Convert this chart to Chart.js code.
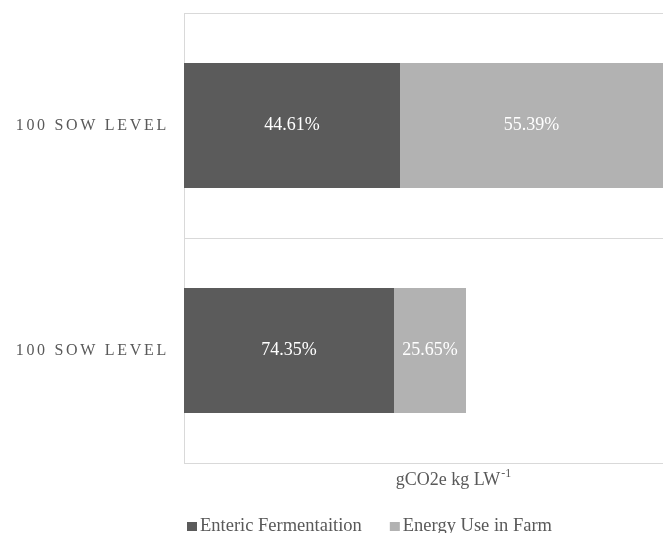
<!DOCTYPE html>
<html>
<head>
<meta charset="utf-8">
<script src="https://cdn.jsdelivr.net/npm/chart.js@4"></script>
<style>
  html, body { margin: 0; padding: 0; background: #ffffff; }
  #wrap { width: 663px; height: 533px; }
</style>
</head>
<body>
<div id="wrap"><canvas id="chart"></canvas></div>
<script>
const categories = ["100 SOW LEVEL", "100 SOW LEVEL"];
const entericValues = [2.16, 2.10];
const energyValues = [2.68, 0.72];
const entericLabels = ["44.61%", "74.35%"];
const energyLabels = ["55.39%", "25.65%"];
const axisTitle = "gCO2e kg LW";
const axisTitleSup = "-1";

const serif = "'Liberation Serif', 'Times New Roman', serif";
const textGray = "#595959";

// spaced category labels, bar percentages, axis title and legend
const extras = {
    id: "extras",
    beforeDraw(chart) {
        chart.ctx.letterSpacing = "2.7px";
    },
    beforeDatasetsDraw(chart) {
        chart.ctx.letterSpacing = "0px";
    },
    afterDatasetsDraw(chart) {
        const ctx = chart.ctx;
        const area = chart.chartArea;
        const texts = [entericLabels, energyLabels];
        ctx.save();
        ctx.font = "18px " + serif;
        ctx.fillStyle = "#ffffff";
        ctx.textAlign = "center";
        ctx.textBaseline = "middle";
        chart.data.datasets.forEach((ds, d) => {
            chart.getDatasetMeta(d).data.forEach((bar, i) => {
                const right = Math.min(bar.x, area.right);
                ctx.fillText(texts[d][i], (bar.base + right) / 2, bar.y);
            });
        });
        ctx.restore();
    },
    afterDraw(chart) {
        const ctx = chart.ctx;
        ctx.save();
        // axis title with superscript
        ctx.fillStyle = textGray;
        ctx.textBaseline = "alphabetic";
        ctx.font = "18px " + serif;
        const w1 = ctx.measureText(axisTitle).width;
        ctx.font = "12px " + serif;
        const w2 = ctx.measureText(axisTitleSup).width;
        const x0 = 453 - (w1 + w2) / 2;
        ctx.font = "18px " + serif;
        ctx.fillText(axisTitle, x0, 485);
        ctx.font = "12px " + serif;
        ctx.fillText(axisTitleSup, x0 + w1 + 1, 477);

        // legend
        ctx.font = "18.5px " + serif;
        let x = 187;
        chart.data.datasets.forEach(ds => {
            ctx.fillStyle = ds.backgroundColor;
            ctx.fillRect(x, 522, 10, 9);
            ctx.fillStyle = textGray;
            ctx.fillText(ds.label, x + 13, 531);
            x += 13 + ctx.measureText(ds.label).width + 28;
        });
        ctx.restore();
    }
};

new Chart(document.getElementById("chart"), {
    type: "bar",
    data: {
        labels: categories,
        datasets: [
            {
                label: "Enteric Fermentaition",
                data: entericValues,
                backgroundColor: "#5b5b5b",
                categoryPercentage: 1,
                barPercentage: 0.555
            },
            {
                label: "Energy Use in Farm",
                data: energyValues,
                backgroundColor: "#b2b2b2",
                categoryPercentage: 1,
                barPercentage: 0.555
            }
        ]
    },
    options: {
        indexAxis: "y",
        responsive: true,
        maintainAspectRatio: false,
        animation: false,
        layout: { padding: { top: 13, bottom: 70, left: 0, right: 0 } },
        plugins: {
            legend: { display: false },
            tooltip: { enabled: false }
        },
        scales: {
            x: {
                stacked: true,
                display: false,
                min: 0,
                max: 4.79
            },
            y: {
                stacked: true,
                afterFit(scale) {
                    scale.width = 184;
                    scale.paddingTop = 0;
                    scale.paddingBottom = 0;
                },
                grid: { offset: true, color: "#d9d9d9", drawTicks: false },
                border: { color: "#d9d9d9" },
                ticks: {
                    padding: 15,
                    color: textGray,
                    font: { family: serif, size: 16 }
                }
            }
        }
    },
    plugins: [extras]
});
</script>
</body>
</html>
